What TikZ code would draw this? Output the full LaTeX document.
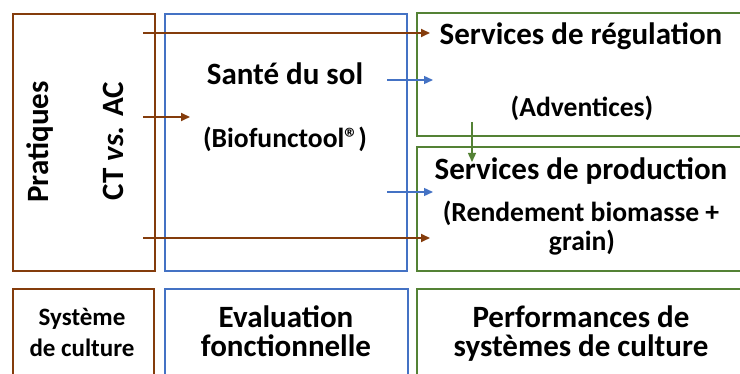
\documentclass[tikz,border=0pt]{standalone}
\usepackage{fontspec}
\setmainfont{Carlito}
\usetikzlibrary{arrows.meta}
\definecolor{brun}{RGB}{132,60,12}
\definecolor{bleu}{RGB}{68,114,196}
\definecolor{vert}{RGB}{84,130,53}
\tikzset{
	boite/.style={draw, line width=1.8pt, inner sep=0pt, anchor=north west},
	fleche/.style={line width=1.8pt, -{Triangle[length=9pt,width=8pt]}},
	titre/.style={font=\bfseries\fontsize{31}{36}\selectfont, anchor=base, inner sep=0pt},
	soustitre/.style={font=\bfseries\fontsize{27.6}{32}\selectfont, anchor=base, inner sep=0pt},
	petit/.style={font=\bfseries\fontsize{25}{30}\selectfont, anchor=base, inner sep=0pt}
}

\begin{document}
\begin{tikzpicture}[x=1pt, y=-1pt]
			%%%%% CADRE %%%%%
			\useasboundingbox (0,0) rectangle (740,374);
			
			%%%%% BOITES DU HAUT %%%%%
			\node[boite, brun, minimum width=142, minimum height=257] (prat) at (12,13) {};
			\node[boite, bleu, minimum width=242, minimum height=257] (sante) at (164,13) {};
			\node[boite, vert, minimum width=340, minimum height=123] (regul) at (416,12) {};
			\node[boite, vert, minimum width=340, minimum height=124] (prod) at (416,146) {};
			
			%%%%% BOITES DU BAS %%%%%
			\node[boite, brun, minimum width=141, minimum height=100] (syst) at (12,288) {};
			\node[boite, bleu, minimum width=243, minimum height=100] (evalf) at (164,288) {};
			\node[boite, vert, minimum width=340, minimum height=100] (perf) at (416,288) {};
			
			%%%%% TEXTES %%%%%
			\node[titre, rotate=90] (tprat) at (48,142) {Pratiques};
			\node[titre, rotate=90] (tct) at (123,141) {CT \emph{vs.} AC};
			
			\node[titre] (tsante) at (285,85) {Santé du sol};
			\node[soustitre] (tbio) at (285,148) {(Biofunctool®)};
			
			\node[titre] (tregul) at (581,45) {Services de régulation};
			\node[soustitre] (tadv) at (582,117) {(Adventices)};
			\node[titre] (tprod) at (581,180) {Services de production};
			\node[soustitre] (trend) at (581,222) {(Rendement biomasse +};
			\node[soustitre] (tgrain) at (582,251) {grain)};
			
			\node[petit] (tsyst1) at (82,326) {Système};
			\node[petit] (tsyst2) at (82,357) {de culture};
			\node[titre] (teval1) at (286,328) {Evaluation};
			\node[titre] (teval2) at (286,357) {fonctionnelle};
			\node[titre] (tperf1) at (581,328) {Performances de};
			\node[titre] (tperf2) at (581,357) {systèmes de culture};
			
			%%%%% FLECHES %%%%%
			\coordinate (p1) at (143,33);
			\coordinate (p2) at (143,117);
			\coordinate (p3) at (143,238);
			\coordinate (r1) at (430,33);
			\coordinate (s1) at (190,117);
			\coordinate (r3) at (430,238);
			\draw[fleche, brun] (p1) -- (r1);
			\draw[fleche, brun] (p2) -- (s1);
			\draw[fleche, brun] (p3) -- (r3);
			
			\coordinate (b1) at (387,80);
			\coordinate (b2) at (387,192);
			\coordinate (c1) at (433,80);
			\coordinate (c2) at (433,192);
			\draw[fleche, bleu, line width=1.4pt] (b1) -- (c1);
			\draw[fleche, bleu, line width=1.4pt] (b2) -- (c2);
			
			\coordinate (v1) at (472,122);
			\coordinate (v2) at (472,162);
			\draw[fleche, vert, line width=1.4pt] (v1) -- (v2);
			
			%%%%% FIN %%%%%
		\end{tikzpicture}
\end{document}
